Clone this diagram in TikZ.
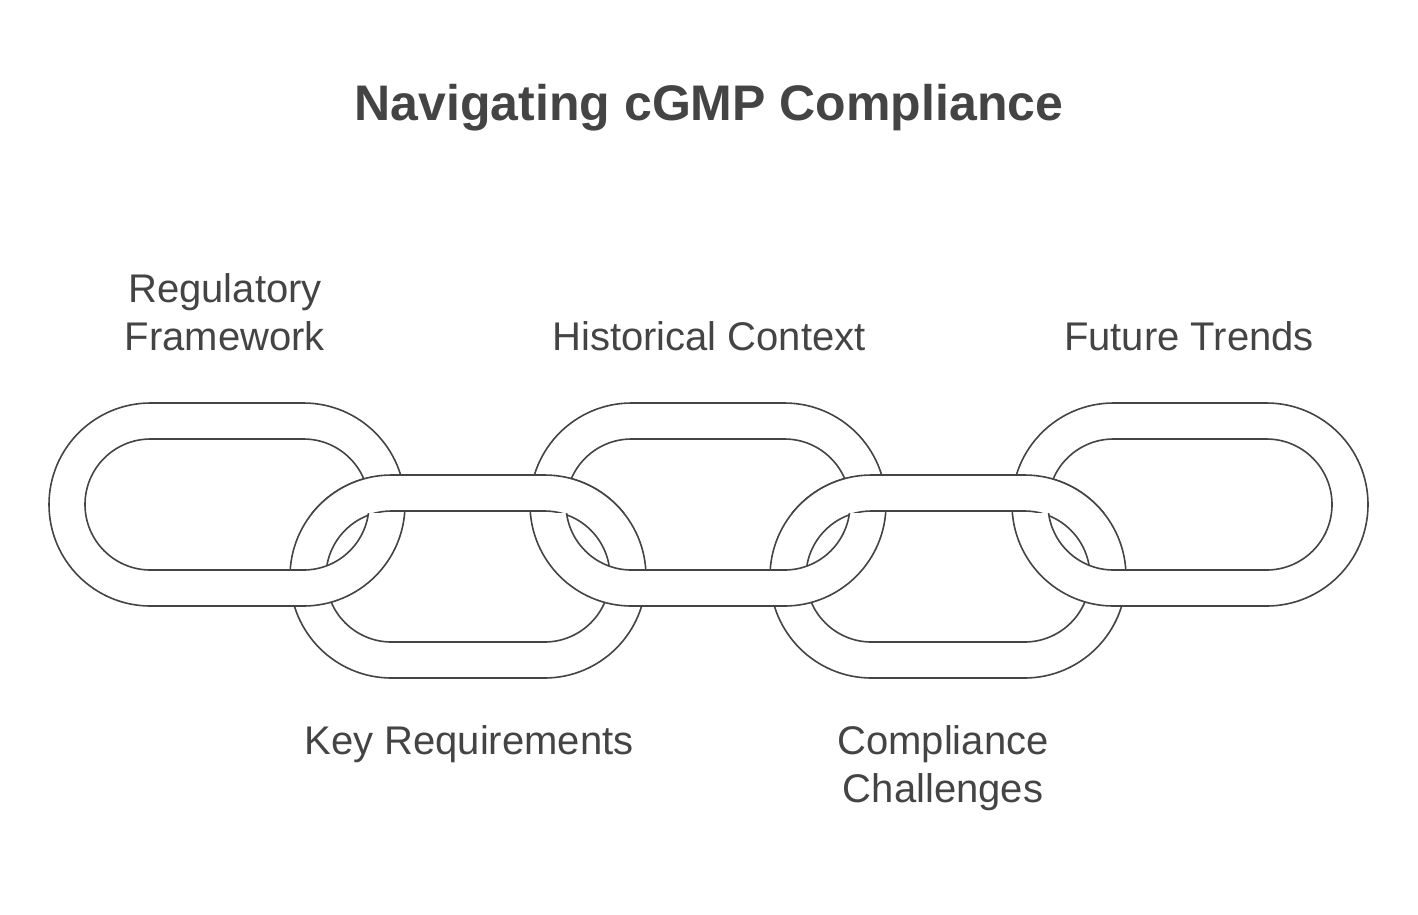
\documentclass[tikz,border=0pt]{standalone}
\usepackage{fontspec}
\setmainfont{Liberation Sans}
\definecolor{ink}{HTML}{444444}
\tikzset{
  band/.style={fill=white, even odd rule, draw=ink, line width=1.6pt},
  lbl/.style={text=ink, font=\fontsize{40}{48}\selectfont, align=center},
}
% one link of the chain, outer box from (#1,#2), 356 x 203
\newcommand{\chainlink}[2]{%
  \path[band] (#1,#2) [rounded corners=101.5] rectangle ++(356,203)
              (#1+36,#2+36) [rounded corners=65.5] rectangle ++(284,131);}
\begin{document}
\begin{tikzpicture}[x=1pt,y=-1pt]
\useasboundingbox (0,0) rectangle (1418,914);
\node[text=ink, font=\fontsize{50}{54}\selectfont\bfseries] (title) at (709,108) {Navigating cGMP Compliance};
% lower links
\chainlink{290}{475}
\chainlink{770}{475}
% upper links
\chainlink{49}{403}
\chainlink{530}{403}
\chainlink{1012}{403}
% lower links again, over the top crossings
\begin{scope}
\clip (0,460) rectangle (1418,512.5);
\chainlink{290}{475}
\chainlink{770}{475}
\end{scope}
\node[lbl] (regulatory) at (225,312) {Regulatory\\Framework};
\node[lbl] (historical) at (709,336) {Historical Context};
\node[lbl] (future) at (1189,336) {Future Trends};
\node[lbl] (keyreq) at (469,744) {Key Requirements};
\node[lbl] (challenges) at (943,768) {Compliance\\Challenges};
\end{tikzpicture}
\end{document}
